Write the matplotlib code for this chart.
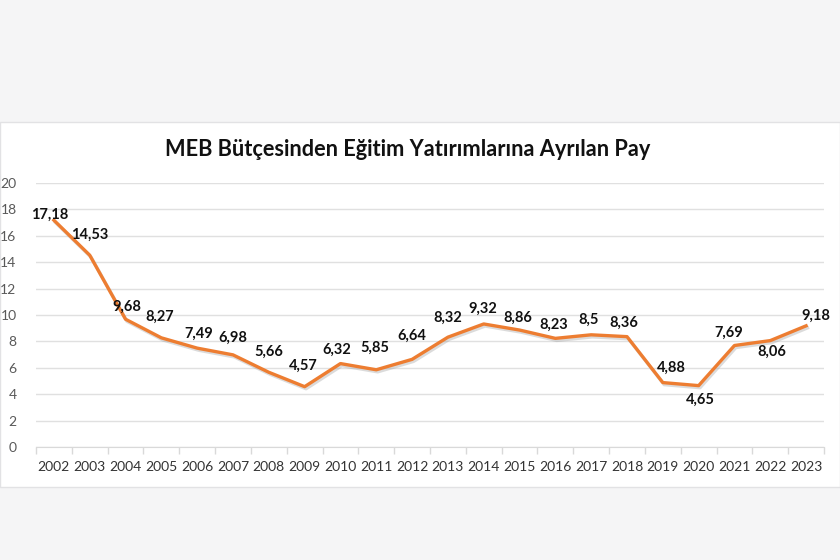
import matplotlib
matplotlib.use("Agg")
import matplotlib.pyplot as plt
from matplotlib.patches import Rectangle
import matplotlib.patheffects as pe
import numpy as np

years = [str(y) for y in range(2002, 2024)]
values = [17.18, 14.53, 9.68, 8.27, 7.49, 6.98, 5.66, 4.57, 6.32, 5.85, 6.64,
          8.32, 9.32, 8.86, 8.23, 8.5, 8.36, 4.88, 4.65, 7.69, 8.06, 9.18]
labels = ["17,18", "14,53", "9,68", "8,27", "7,49", "6,98", "5,66", "4,57", "6,32",
          "5,85", "6,64", "8,32", "9,32", "8,86", "8,23", "8,5", "8,36", "4,88",
          "4,65", "7,69", "8,06", "9,18"]
title = "MEB Bütçesinden Eğitim Yatırımlarına Ayrılan Pay"

# label offsets in points (dx, dy)
offsets = [(-3, 4), (0, 15), (1, 9), (-1, 15), (1, 10), (0, 12), (0, 15), (-1, 15),
           (-3, 10), (-1, 16), (0, 17), (0, 14), (-1, 11), (-1, 9), (-1, 10), (-2, 11),
           (-2, 10), (6, 11), (1, -10), (-4, 9), (1, -8), (7, 7)]

plt.rcParams['font.family'] = ['Lato', 'DejaVu Sans']

fig = plt.figure(figsize=(8.4, 5.6), dpi=100, facecolor="#f5f5f6")
fig.patches.append(Rectangle((0, 1 - 487 / 560), 1, 365 / 560, transform=fig.transFigure,
                             facecolor="white", edgecolor="#e2e2e4", linewidth=1, zorder=-5))

ax = fig.add_axes([36 / 840, 1 - 447 / 560, 788 / 840, 264 / 560])
ax.set_zorder(2)
ax.set_facecolor("none")
x = np.arange(len(years))
ax.plot(x, values, color="#ED7D31", linewidth=2.4, solid_joinstyle="round",
        path_effects=[pe.SimpleLineShadow(offset=(1, -1.5), shadow_color="#999999", alpha=0.35),
                      pe.Normal()], zorder=3)

for xi, v, lab, (dx, dy) in zip(x, values, labels, offsets):
    ax.annotate(lab, (xi, v), xytext=(dx, dy), textcoords="offset points",
                ha="center", va="center", fontsize=10.5, fontweight="bold", color="#111111",
                zorder=4)

ax.set_xlim(-0.5, len(years) - 0.5)
ax.set_ylim(0, 20)
ax.set_yticks(range(0, 21, 2))
ax.set_xticks(x)
ax.set_xticklabels(years)
ax.set_xticks(np.arange(-0.5, len(years), 1), minor=True)
ax.tick_params(axis="x", which="major", length=0, pad=10, labelsize=10, labelcolor="#333333")
ax.tick_params(axis="x", which="minor", length=5, color="#d9d9d9", width=1)
ax.tick_params(axis="y", length=0, pad=14, labelsize=10, labelcolor="#595959")
ax.grid(axis="y", color="#e0e0e0", linewidth=1)
ax.set_axisbelow(True)
for s in ["top", "right", "left"]:
    ax.spines[s].set_visible(False)
ax.spines["bottom"].set_color("#d9d9d9")

fig.text(408 / 840, 1 - 150 / 560, title, ha="center", va="center", fontsize=15.7,
         fontweight="bold", color="#111111", zorder=3)

fig.savefig("out.png", dpi=100, facecolor=fig.get_facecolor())
